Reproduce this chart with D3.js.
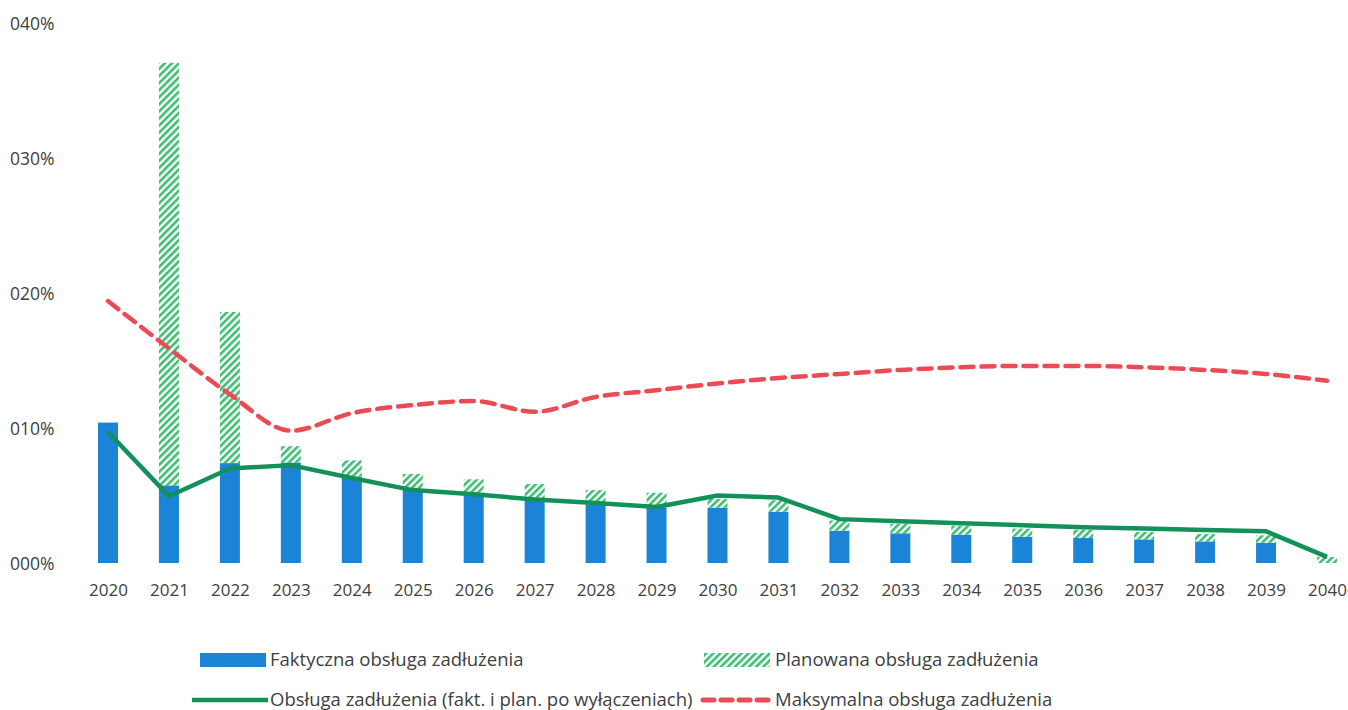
<!DOCTYPE html>
<html>
<head>
<meta charset="utf-8">
<script src="https://cdn.jsdelivr.net/npm/d3@7"></script>
<style>
	body { margin: 0; background: #fff; }
	svg text { font-family: "Open Sans", sans-serif; fill: #404040; }
</style>
</head>
<body>
<svg id="chart" width="1348" height="710"></svg>
<script>
const years = ['2020', '2021', '2022', '2023', '2024', '2025', '2026', '2027', '2028', '2029', '2030',
	'2031', '2032', '2033', '2034', '2035', '2036', '2037', '2038', '2039', '2040'];

// shares of income, in %
const actualDebt = [10.4, 5.75, 7.4, 7.45, 6.4, 5.5, 5.1, 4.65, 4.3, 4.1, 4.1,
	3.8, 2.4, 2.2, 2.1, 1.95, 1.85, 1.75, 1.6, 1.5, 0];
const plannedDebt = [0, 31.3, 11.2, 1.2, 1.2, 1.1, 1.1, 1.2, 1.1, 1.1, 0.65,
	0.85, 0.75, 0.7, 0.65, 0.6, 0.6, 0.55, 0.55, 0.55, 0.45];
const debtAfterExclusions = [9.7, 4.95, 7.0, 7.25, 6.3, 5.4, 5.1, 4.7, 4.45, 4.15, 5.0,
	4.85, 3.25, 3.1, 2.95, 2.8, 2.65, 2.55, 2.45, 2.35, 0.45];
const maxDebt = [19.4, 15.9, 12.5, 9.8, 11.1, 11.7, 12.0, 11.2, 12.3, 12.8, 13.3,
	13.7, 14.0, 14.3, 14.5, 14.6, 14.6, 14.5, 14.3, 14.0, 13.5];

const yTickValues = [0, 10, 20, 30, 40];
const yTickLabels = ['000%', '010%', '020%', '030%', '040%'];

const legendLabels = [
	'Faktyczna obsługa zadłużenia',
	'Planowana obsługa zadłużenia',
	'Obsługa zadłużenia (fakt. i plan. po wyłączeniach)',
	'Maksymalna obsługa zadłużenia'
];

const Chart = {
	barWidth: 20,
	blue: '#1b84d6',
	hatchGreen: '#3dbd70',
	lineGreen: '#12915a',
	red: '#ea4b55',

	draw: function() {
		const self = this;
		let svg = d3.select('#chart');

		self.x = d3.scalePoint().domain(years).range([108, 1327]);
		self.y = d3.scaleLinear().domain([0, 40]).range([563, 23]);

		self.definePattern(svg);
		self.drawAxes(svg);
		self.drawBars(svg);
		self.drawLines(svg);
		self.drawLegend(svg);
	},

	definePattern: function(svg) {
		const self = this;
		let pattern = svg.append('defs')
			.append('pattern')
			.attr('id', 'hatch')
			.attr('patternUnits', 'userSpaceOnUse')
			.attr('width', 5)
			.attr('height', 5)
			.attr('patternTransform', 'rotate(45)');

		pattern.append('rect')
			.attr('width', 5).attr('height', 5)
			.style('fill', '#fff');
		pattern.append('rect')
			.attr('width', 2.6).attr('height', 5)
			.style('fill', self.hatchGreen);
	},

	drawAxes: function(svg) {
		const self = this;

		let yAxis = d3.axisLeft(self.y)
			.tickValues(yTickValues)
			.tickSize(0)
			.tickFormat(function(d, i) { return yTickLabels[i]; });

		svg.append('g')
			.attr('transform', 'translate(10,0)')
			.call(yAxis)
			.call(function(g) { g.select('.domain').remove(); })
			.selectAll('text')
			.attr('x', 0)
			.attr('dy', '0.35em')
			.attr('text-anchor', 'start')
			.style('font-size', '17.5px');

		let xAxis = d3.axisBottom(self.x).tickSize(0);

		svg.append('g')
			.attr('transform', 'translate(0,580)')
			.call(xAxis)
			.call(function(g) { g.select('.domain').remove(); })
			.selectAll('text')
			.attr('dy', '0.75em')
			.style('font-size', '17px');
	},

	drawBars: function(svg) {
		const self = this;
		let bw = self.barWidth;

		svg.append('g').selectAll('rect')
			.data(years)
			.join('rect')
			.attr('x', function(d) { return self.x(d) - bw / 2; })
			.attr('y', function(d, i) { return self.y(actualDebt[i]); })
			.attr('width', bw)
			.attr('height', function(d, i) { return self.y(0) - self.y(actualDebt[i]); })
			.style('fill', self.blue);

		svg.append('g').selectAll('rect')
			.data(years)
			.join('rect')
			.attr('x', function(d) { return self.x(d) - bw / 2; })
			.attr('y', function(d, i) { return self.y(actualDebt[i] + plannedDebt[i]); })
			.attr('width', bw)
			.attr('height', function(d, i) { return self.y(actualDebt[i]) - self.y(actualDebt[i] + plannedDebt[i]); })
			.style('fill', 'url(#hatch)');
	},

	drawLines: function(svg) {
		const self = this;

		let greenLine = d3.line()
			.x(function(d, i) { return self.x(years[i]); })
			.y(function(d) { return self.y(d); });

		svg.append('path')
			.attr('d', greenLine(debtAfterExclusions))
			.style('fill', 'none')
			.style('stroke', self.lineGreen)
			.style('stroke-width', 4.5)
			.style('stroke-linejoin', 'round');

		let redLine = d3.line()
			.x(function(d, i) { return self.x(years[i]); })
			.y(function(d) { return self.y(d); })
			.curve(d3.curveMonotoneX);

		svg.append('path')
			.attr('d', redLine(maxDebt))
			.style('fill', 'none')
			.style('stroke', self.red)
			.style('stroke-width', 4.5)
			.style('stroke-dasharray', '13 8')
			.style('stroke-linecap', 'round');
	},

	drawLegend: function(svg) {
		const self = this;
		let g = svg.append('g').style('font-size', '18.5px');

		g.append('rect')
			.attr('x', 200).attr('y', 653).attr('width', 66).attr('height', 14)
			.style('fill', self.blue);
		g.append('rect')
			.attr('x', 704).attr('y', 653).attr('width', 66).attr('height', 14)
			.style('fill', 'url(#hatch)');
		g.append('line')
			.attr('x1', 192).attr('x2', 268).attr('y1', 700).attr('y2', 700)
			.style('stroke', self.lineGreen)
			.style('stroke-width', 4.5);
		g.append('line')
			.attr('x1', 703).attr('x2', 770).attr('y1', 700).attr('y2', 700)
			.style('stroke', self.red)
			.style('stroke-width', 5)
			.style('stroke-dasharray', '11 7')
			.style('stroke-linecap', 'round');

		let labelPos = [[270, 660], [775, 660], [270, 700], [775, 700]];

		g.selectAll('text')
			.data(legendLabels)
			.join('text')
			.attr('x', function(d, i) { return labelPos[i][0]; })
			.attr('y', function(d, i) { return labelPos[i][1]; })
			.attr('dy', '0.35em')
			.text(function(d) { return d; });
	}
};

Chart.draw();
</script>
</body>
</html>
